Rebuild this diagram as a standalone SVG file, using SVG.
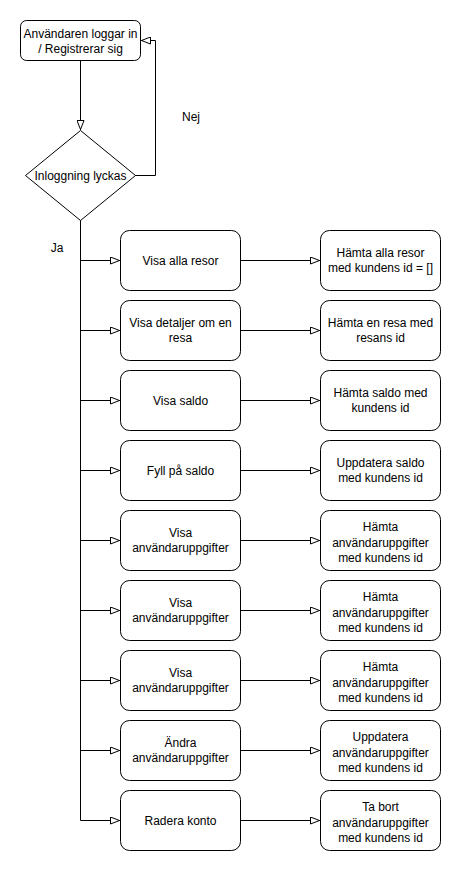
<svg xmlns="http://www.w3.org/2000/svg" width="461" height="871" viewBox="0 0 461 871">
<style>
.n{fill:#fff;stroke:#000;stroke-width:1}
.t{font-family:"Liberation Sans",Arial,sans-serif;font-size:12px;fill:#000;text-anchor:middle}
.c{fill:none;stroke:#000;stroke-width:1}
</style>
<defs>
<marker id="a" viewBox="0 0 10 8" refX="10" refY="4" markerWidth="10" markerHeight="8" markerUnits="userSpaceOnUse" orient="auto">
<path d="M0.5,0.5 L9.5,4 L0.5,7.5 Z" fill="#fff" stroke="#000" stroke-width="1"/>
</marker>
</defs>
<rect width="461" height="871" fill="#fff"/>
<g id="connectors">
<path class="c" d="M80.5,60.5 V130" marker-end="url(#a)"/>
<path class="c" d="M135,175.5 H155.5 V40.5 H141" marker-end="url(#a)"/>
<path class="c" d="M80.5,220 V820.5"/>
<path class="c" d="M80.5,260.5 H120" marker-end="url(#a)"/>
<path class="c" d="M80.5,330.5 H120" marker-end="url(#a)"/>
<path class="c" d="M80.5,400.5 H120" marker-end="url(#a)"/>
<path class="c" d="M80.5,470.5 H120" marker-end="url(#a)"/>
<path class="c" d="M80.5,540.5 H120" marker-end="url(#a)"/>
<path class="c" d="M80.5,610.5 H120" marker-end="url(#a)"/>
<path class="c" d="M80.5,680.5 H120" marker-end="url(#a)"/>
<path class="c" d="M80.5,750.5 H120" marker-end="url(#a)"/>
<path class="c" d="M80.5,820.5 H120" marker-end="url(#a)"/>
<path class="c" d="M240.5,260.5 H320" marker-end="url(#a)"/>
<path class="c" d="M240.5,330.5 H320" marker-end="url(#a)"/>
<path class="c" d="M240.5,400.5 H320" marker-end="url(#a)"/>
<path class="c" d="M240.5,470.5 H320" marker-end="url(#a)"/>
<path class="c" d="M240.5,540.5 H320" marker-end="url(#a)"/>
<path class="c" d="M240.5,610.5 H320" marker-end="url(#a)"/>
<path class="c" d="M240.5,680.5 H320" marker-end="url(#a)"/>
<path class="c" d="M240.5,750.5 H320" marker-end="url(#a)"/>
<path class="c" d="M240.5,820.5 H320" marker-end="url(#a)"/>
<text class="t" x="191" y="121">Nej</text>
<text class="t" x="57" y="252">Ja</text>
</g>
<g id="start">
<rect class="n" x="20.5" y="20.5" width="120" height="40" rx="6"/>
<text class="t" x="80.5" y="37.5">Användaren loggar in</text>
<text class="t" x="80.5" y="52.5">/ Registrerar sig</text>
</g>
<g id="decision">
<path class="n" d="M80.5,130.5 L135.5,175.5 L80.5,220.5 L25.5,175.5 Z"/>
<text class="t" x="80.5" y="179.5">Inloggning lyckas</text>
</g>
<g id="l1"><rect class="n" x="120.5" y="230.5" width="120" height="60" rx="9"/><text class="t" x="180.5" y="264.5">Visa alla resor</text></g>
<g id="r1"><rect class="n" x="320.5" y="230.5" width="120" height="60" rx="9"/><text class="t" x="380.5" y="257">Hämta alla resor</text><text class="t" x="380.5" y="272">med kundens id = []</text></g>
<g id="l2"><rect class="n" x="120.5" y="300.5" width="120" height="60" rx="9"/><text class="t" x="180.5" y="327">Visa detaljer om en</text><text class="t" x="180.5" y="342">resa</text></g>
<g id="r2"><rect class="n" x="320.5" y="300.5" width="120" height="60" rx="9"/><text class="t" x="380.5" y="327">Hämta en resa med</text><text class="t" x="380.5" y="342">resans id</text></g>
<g id="l3"><rect class="n" x="120.5" y="370.5" width="120" height="60" rx="9"/><text class="t" x="180.5" y="404.5">Visa saldo</text></g>
<g id="r3"><rect class="n" x="320.5" y="370.5" width="120" height="60" rx="9"/><text class="t" x="380.5" y="397">Hämta saldo med</text><text class="t" x="380.5" y="412">kundens id</text></g>
<g id="l4"><rect class="n" x="120.5" y="440.5" width="120" height="60" rx="9"/><text class="t" x="180.5" y="474.5">Fyll på saldo</text></g>
<g id="r4"><rect class="n" x="320.5" y="440.5" width="120" height="60" rx="9"/><text class="t" x="380.5" y="467">Uppdatera saldo</text><text class="t" x="380.5" y="482">med kundens id</text></g>
<g id="l5"><rect class="n" x="120.5" y="510.5" width="120" height="60" rx="9"/><text class="t" x="180.5" y="537">Visa</text><text class="t" x="180.5" y="552">användaruppgifter</text></g>
<g id="r5"><rect class="n" x="320.5" y="510.5" width="120" height="60" rx="9"/><text class="t" x="380.5" y="531">Hämta</text><text class="t" x="380.5" y="546.5">användaruppgifter</text><text class="t" x="380.5" y="562">med kundens id</text></g>
<g id="l6"><rect class="n" x="120.5" y="580.5" width="120" height="60" rx="9"/><text class="t" x="180.5" y="607">Visa</text><text class="t" x="180.5" y="622">användaruppgifter</text></g>
<g id="r6"><rect class="n" x="320.5" y="580.5" width="120" height="60" rx="9"/><text class="t" x="380.5" y="601">Hämta</text><text class="t" x="380.5" y="616.5">användaruppgifter</text><text class="t" x="380.5" y="632">med kundens id</text></g>
<g id="l7"><rect class="n" x="120.5" y="650.5" width="120" height="60" rx="9"/><text class="t" x="180.5" y="677">Visa</text><text class="t" x="180.5" y="692">användaruppgifter</text></g>
<g id="r7"><rect class="n" x="320.5" y="650.5" width="120" height="60" rx="9"/><text class="t" x="380.5" y="671">Hämta</text><text class="t" x="380.5" y="686.5">användaruppgifter</text><text class="t" x="380.5" y="702">med kundens id</text></g>
<g id="l8"><rect class="n" x="120.5" y="720.5" width="120" height="60" rx="9"/><text class="t" x="180.5" y="747">Ändra</text><text class="t" x="180.5" y="762">användaruppgifter</text></g>
<g id="r8"><rect class="n" x="320.5" y="720.5" width="120" height="60" rx="9"/><text class="t" x="380.5" y="741">Uppdatera</text><text class="t" x="380.5" y="756.5">användaruppgifter</text><text class="t" x="380.5" y="772">med kundens id</text></g>
<g id="l9"><rect class="n" x="120.5" y="790.5" width="120" height="60" rx="9"/><text class="t" x="180.5" y="824.5">Radera konto</text></g>
<g id="r9"><rect class="n" x="320.5" y="790.5" width="120" height="60" rx="9"/><text class="t" x="380.5" y="811">Ta bort</text><text class="t" x="380.5" y="826.5">användaruppgifter</text><text class="t" x="380.5" y="842">med kundens id</text></g>
</svg>
